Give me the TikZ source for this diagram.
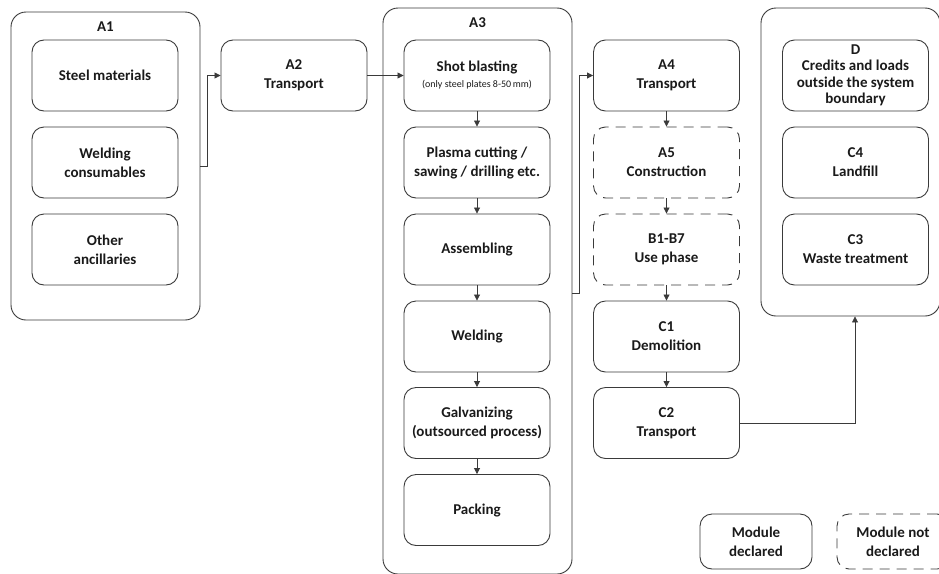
\documentclass[tikz,border=0pt]{standalone}
\usepackage{fontspec}
\setmainfont{Carlito}
\usetikzlibrary{arrows.meta, positioning, calc}

\definecolor{edgegray}{HTML}{3A3A3A}
\definecolor{txtblack}{HTML}{1A1A1A}

\begin{document}
\begin{tikzpicture}[
    x=1pt, y=-1pt,
    module/.style={
        rectangle, rounded corners=12pt,
        draw=edgegray, line width=0.9pt, text=txtblack,
        font=\bfseries\fontsize{15}{19}\selectfont, align=center,
        minimum width=146pt, minimum height=71pt, inner sep=2pt
    },
    nodecl/.style={module, dash pattern=on 10pt off 7pt},
    stage/.style={
        rectangle, rounded corners=15pt,
        draw=edgegray, line width=0.9pt,
        minimum width=189pt
    },
    stagelbl/.style={font=\bfseries\fontsize{15}{18}\selectfont, text=txtblack},
    flow/.style={-{Triangle[length=6pt, width=6pt]}, draw=edgegray, line width=0.8pt},
]
\useasboundingbox (0,0) rectangle (939,573);
\clip (0,0) rectangle (939,573);

% --- A1 (raw materials) ---
\node[stage, minimum height=308pt] (A1) at (105.5, 166) {};
\node[stagelbl] (A1lbl) at (105.5, 27) {A1};
\node[module] (steel) at (105, 75.5) {Steel materials};
\node[module] (weldc) at (105, 162.5) {Welding\\consumables};
\node[module] (other) at (105, 249.5) {Other\\ancillaries};

% --- A2 ---
\node[module] (A2) at (294, 75.5) {A2\\Transport};

% --- A3 (manufacturing) ---
\node[stage, minimum height=566pt] (A3) at (477.5, 291) {};
\node[stagelbl] (A3lbl) at (477.5, 23) {A3};
\node[module] (shot) at (477, 75.5) {Shot blasting\\[-3pt]{\mdseries\fontsize{10}{12}\selectfont (only steel plates 8-50\,mm)}};
\node[module] (plasma) at (477, 162.5) {Plasma cutting /\\sawing / drilling etc.};
\node[module] (assem) at (477, 249.5) {Assembling};
\node[module] (weld) at (477, 336.5) {Welding};
\node[module] (galv) at (477, 423) {Galvanizing\\(outsourced process)};
\node[module] (pack) at (477, 510) {Packing};

% --- A4 .. C2 ---
\node[module] (A4) at (666.5, 75.5) {A4\\Transport};
\node[nodecl] (A5) at (666.5, 162.5) {A5\\Construction};
\node[nodecl] (B17) at (666.5, 249.5) {B1-B7\\Use phase};
\node[module] (C1) at (666.5, 336.5) {C1\\Demolition};
\node[module] (C2) at (666.5, 423) {C2\\Transport};

% --- D / C3 / C4 ---
\node[stage, minimum width=179pt, minimum height=308pt] (DC) at (850.5, 162) {};
\node[module, font=\bfseries\fontsize{15}{16.5}\selectfont] (D) at (855.5, 75.5) {D\\Credits and loads\\outside the system\\boundary};
\node[module] (C4) at (855.5, 162.5) {C4\\Landfill};
\node[module] (C3) at (855.5, 249.5) {C3\\Waste treatment};

% --- legend ---
\node[module, minimum width=112pt, minimum height=55pt] (leg1) at (756, 541.5) {Module\\declared};
\node[nodecl, minimum width=112pt, minimum height=55pt] (leg2) at (893, 541.5) {Module not\\declared};

% --- Connections ---
\draw[flow] (A1.east) -- ++(7,0) |- (A2.west);
\draw[flow] (A2.east) -- (shot.west);
\draw[flow] (shot) -- (plasma);
\draw[flow] (plasma) -- (assem);
\draw[flow] (assem) -- (weld);
\draw[flow] (weld) -- (galv);
\draw[flow] (galv) -- (pack);
\draw[flow] (A3.east) ++(0,2) -- ++(7,0) |- (A4.west);
\draw[flow] (A4) -- (A5);
\draw[flow] (A5) -- (B17);
\draw[flow] (B17) -- (C1);
\draw[flow] (C1) -- (C2);
\draw[flow] (C2.east) -| ([xshift=4.5pt]DC.south);

\end{tikzpicture}
\end{document}
